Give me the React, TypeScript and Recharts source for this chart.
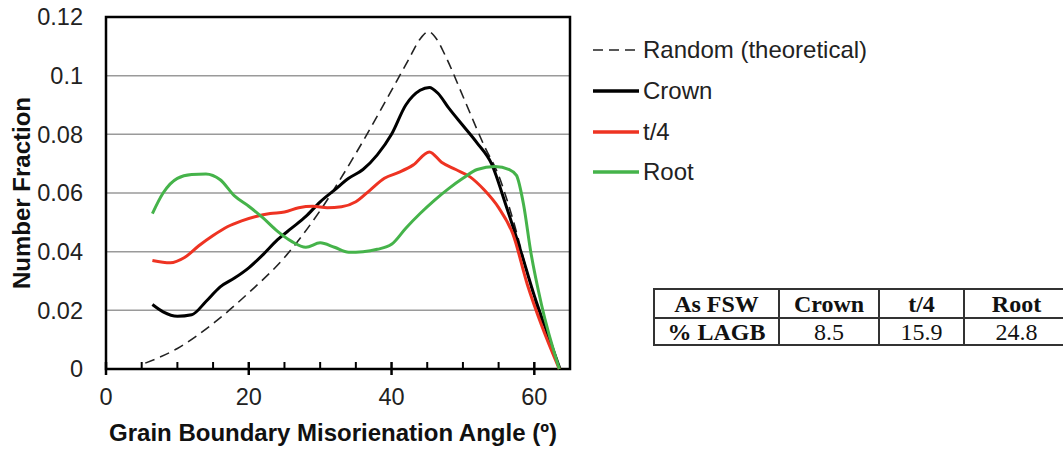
import React from 'react';
import { LineChart, Line, XAxis, YAxis, CartesianGrid, ReferenceArea } from 'recharts';

// misorientation angle (deg) vs number fraction
const randomAngle = [5.5, 10, 15, 20, 25, 30, 35, 40, 42.5, 44, 45.2, 46.3, 47.5, 50, 53, 55, 57, 59, 61, 63.6];
const randomFrac = [0.002, 0.007, 0.0155, 0.026, 0.038, 0.054, 0.0735, 0.095, 0.106, 0.1125, 0.115, 0.1125, 0.107, 0.093, 0.076, 0.066, 0.051, 0.033, 0.016, 0];

const crownAngle = [6.5, 8, 10, 12, 14, 16, 18, 20, 22, 24, 26, 28, 30, 32, 34, 36, 38, 40, 42, 44, 45.3, 46.5, 48, 50, 52, 54, 56, 58, 60, 62, 63.6];
const crownFrac = [0.022, 0.0195, 0.018, 0.0185, 0.023, 0.028, 0.031, 0.0345, 0.039, 0.044, 0.048, 0.052, 0.057, 0.061, 0.065, 0.068, 0.073, 0.08, 0.09, 0.095, 0.096, 0.094, 0.089, 0.083, 0.077, 0.07, 0.056, 0.041, 0.025, 0.011, 0];

const t4Angle = [6.5, 9, 11, 13, 15, 17, 19, 21, 23, 25, 27, 29, 31, 33, 35, 37, 39, 41, 43, 45.3, 47, 49, 51, 53, 55, 57, 59, 61, 63.5];
const t4Frac = [0.037, 0.0362, 0.038, 0.042, 0.0455, 0.0485, 0.0505, 0.052, 0.053, 0.0535, 0.055, 0.0555, 0.055, 0.0553, 0.057, 0.061, 0.065, 0.067, 0.0695, 0.074, 0.0705, 0.068, 0.0655, 0.061, 0.055, 0.046, 0.029, 0.015, 0];

const rootAngle = [6.5, 8, 10, 12, 14, 16, 18, 20, 22, 24, 26, 28, 30, 32, 34, 36, 38, 40, 42, 44, 46, 48, 50, 52, 54.5, 56.5, 57.5, 58.5, 59.5, 61, 63.5];
const rootFrac = [0.053, 0.06, 0.065, 0.0663, 0.0665, 0.0645, 0.059, 0.0555, 0.0515, 0.047, 0.0435, 0.0415, 0.043, 0.0415, 0.0398, 0.04, 0.0408, 0.0425, 0.048, 0.053, 0.0575, 0.0615, 0.065, 0.068, 0.069, 0.068, 0.066, 0.056, 0.04, 0.022, 0];

const xTicks = [0, 5, 10, 15, 20, 25, 30, 35, 40, 45, 50, 55, 60];
const xLabelled = [0, 20, 40, 60];
const yTicks = [0, 0.02, 0.04, 0.06, 0.08, 0.1, 0.12];
const yTickLabels = ['0', '0.02', '0.04', '0.06', '0.08', '0.1', '0.12'];

const tableHead = ['As FSW', 'Crown', 't/4', 'Root'];
const tableRow = ['% LAGB', '8.5', '15.9', '24.8'];

const toPoints = (xs: number[], ys: number[]) => xs.map((x, i) => ({ x, y: ys[i] }));

const series = [
  { name: 'Random (theoretical)', data: toPoints(randomAngle, randomFrac), color: '#222', width: 1.6, dash: '10 6' },
  { name: 'Crown', data: toPoints(crownAngle, crownFrac), color: '#000', width: 3, dash: undefined },
  { name: 't/4', data: toPoints(t4Angle, t4Frac), color: '#ee3322', width: 3, dash: undefined },
  { name: 'Root', data: toPoints(rootAngle, rootFrac), color: '#45b34a', width: 3, dash: undefined },
];

const FONT = '"Liberation Sans", Arial, sans-serif';

const XTick = ({ x, y, payload }: { x?: number; y?: number; payload?: { value: number } }) => {
  const v = payload?.value ?? 0;
  const major = xLabelled.includes(v);
  return (
    <g>
      <line x1={x} x2={x} y1={(y ?? 0) - 7} y2={(y ?? 0) + (major ? 6 : 0)} stroke="#000" strokeWidth={major ? 2.5 : 2} />
      {major && (
        <text x={x} y={(y ?? 0) + 36} textAnchor="middle" fontSize={23.5} fontFamily={FONT} fill="#222">{v}</text>
      )}
    </g>
  );
};

export default function App() {
  return (
    <div style={{ position: 'absolute', left: 0, top: 0, width: 1063, height: 451, background: '#fff', fontFamily: FONT }}>
      <LineChart width={600} height={451} margin={{ top: 17, right: 30, bottom: 0, left: 0 }}>
        <CartesianGrid vertical={false} stroke="#9a9a9a" strokeWidth={1.5} />
        <XAxis
          dataKey="x" type="number" domain={[0, 65]} ticks={xTicks} height={82}
          axisLine={false} tickLine={false} tickSize={0} tickMargin={0}
          tick={<XTick />} interval={0} allowDuplicatedCategory={false}
          label={{
            content: () => (
              <text x={333} y={441} textAnchor="middle" fontSize={24} fontWeight="bold" fontFamily={FONT} fill="#111">
                Grain Boundary Misorienation Angle (º)
              </text>
            ),
          }}
        />
        <YAxis
          type="number" domain={[0, 0.12]} ticks={yTicks} width={106}
          axisLine={false} tickLine={false} tickSize={0} tickMargin={23} interval={0}
          tick={{ fontSize: 23.5, fontFamily: FONT, fill: '#222' }}
          tickFormatter={(v: number) => yTickLabels[yTicks.indexOf(v)] ?? String(v)}
          label={{
            content: () => (
              <text x={30} y={193} transform="rotate(-90 30 193)" textAnchor="middle" fontSize={24} fontWeight="bold" fontFamily={FONT} fill="#111">
                Number Fraction
              </text>
            ),
          }}
        />
        {series.map((s) => (
          <Line
            key={s.name} data={s.data} dataKey="y" type="monotone" name={s.name}
            stroke={s.color} strokeWidth={s.width} strokeDasharray={s.dash}
            dot={false} activeDot={false} isAnimationActive={false}
          />
        ))}
        <ReferenceArea x1={0} x2={65} y1={0} y2={0.12} fill="none" stroke="#000" strokeWidth={2.5} ifOverflow="visible" />
      </LineChart>

      {/* legend */}
      <div style={{ position: 'absolute', left: 592, top: 30, fontSize: 24, color: '#222' }}>
        {series.map((s) => (
          <div key={s.name} style={{ display: 'flex', alignItems: 'center', height: 40.7 }}>
            <svg width={48} height={10} style={{ marginRight: 3 }}>
              <line x1={1} x2={47} y1={5} y2={5} stroke={s.color} strokeWidth={s.dash ? 1.6 : 3.5} strokeDasharray={s.dash ? '10 6' : undefined} />
            </svg>
            <span>{s.name}</span>
          </div>
        ))}
      </div>

      {/* LAGB table */}
      <table style={{
        position: 'absolute', left: 653, top: 288, borderCollapse: 'collapse',
        fontFamily: '"Liberation Serif", "Times New Roman", serif', fontSize: 24, color: '#111',
        border: '2.5px solid #222', tableLayout: 'fixed', width: 415,
      }}>
        <colgroup>
          <col style={{ width: 125 }} /><col style={{ width: 100 }} /><col style={{ width: 85 }} /><col style={{ width: 105 }} />
        </colgroup>
        <tbody>
          <tr style={{ height: 29 }}>
            {tableHead.map((h) => (
              <td key={h} style={{ border: '2px solid #333', textAlign: 'center', fontWeight: 'bold', padding: 0, lineHeight: '26px' }}>{h}</td>
            ))}
          </tr>
          <tr style={{ height: 27 }}>
            {tableRow.map((c, i) => (
              <td key={c} style={{ border: '2px solid #333', textAlign: 'center', fontWeight: i === 0 ? 'bold' : 'normal', padding: 0, lineHeight: '24px' }}>{c}</td>
            ))}
          </tr>
        </tbody>
      </table>
    </div>
  );
}
